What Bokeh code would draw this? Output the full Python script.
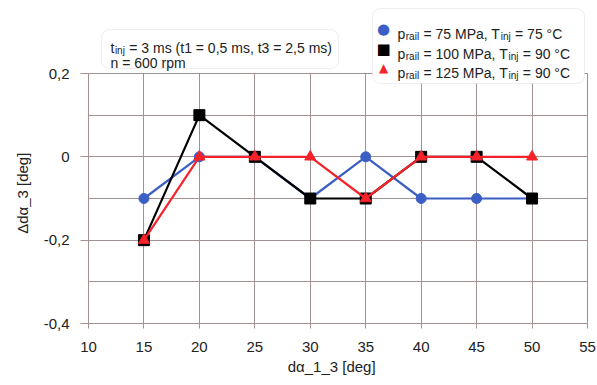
from bokeh.plotting import figure
from bokeh.models import (Range1d, FixedTicker, Label, BoxAnnotation, CustomJSTickFormatter)
from bokeh.embed import file_html
from bokeh.resources import INLINE

# ---------------- data ----------------
x_deg = [15, 20, 25, 30, 35, 40, 45, 50]
s75 = [-0.1, 0.0, 0.0, -0.1, 0.0, -0.1, -0.1, -0.1]
s100 = [-0.2, 0.1, 0.0, -0.1, -0.1, 0.0, 0.0, -0.1]
s125 = [-0.2, 0.0, 0.0, 0.0, -0.1, 0.0, 0.0, 0.0]
x_ticks = [10, 15, 20, 25, 30, 35, 40, 45, 50, 55]
y_ticks = [-0.4, -0.2, 0, 0.2]
y_grid = [-0.4, -0.3, -0.2, -0.1, 0, 0.1, 0.2]
x_lim = (10, 55)
y_lim = (-0.4, 0.2)
legend_rows = [
    ("p", "rail", " = 75 MPa, T", "inj", " = 75 °C"),
    ("p", "rail", " = 100 MPa, T", "inj", " = 90 °C"),
    ("p", "rail", " = 125 MPa, T", "inj", " = 90 °C"),
]
info_line1 = ("t", "inj", " = 3 ms (t1 = 0,5 ms, t3 = 2,5 ms)")
info_line2 = "n = 600 rpm"
x_title = "dα_1_3 [deg]"
y_title = "Δdα_3 [deg]"

FONT = "Liberation Sans"
GRID = "#a39191"
BLUE = "#3b5fc4"
RED = "#f5222a"
TXT = "#222222"

W, H = 597, 385
FL, FR, FT, FB = 88, 587, 73, 323  # plot-area edges in canvas px
PAD_R = 4  # frame extends a little past x=55 so its border line shows
NB = "\u00a0"

# frame extends to the top of the canvas so that annotations above the plot area are drawn
y_top = y_lim[1] + (y_lim[1] - y_lim[0]) * FT / (FB - FT)
x_right = x_lim[1] + (x_lim[1] - x_lim[0]) * PAD_R / (FR - FL)

p = figure(width=W, height=H, output_backend="svg", toolbar_location=None,
           x_range=Range1d(x_lim[0], x_right), y_range=Range1d(y_lim[0], y_top),
           min_border_left=FL, min_border_right=W - FR - PAD_R,
           min_border_top=0, min_border_bottom=H - FB)
p.background_fill_color = "white"
p.border_fill_color = "white"
p.outline_line_color = None

# grids
p.xgrid.ticker = FixedTicker(ticks=x_ticks)
p.ygrid.ticker = FixedTicker(ticks=y_grid)
p.xgrid.cross_bounds = y_lim
p.ygrid.cross_bounds = x_lim
for g in (p.xgrid, p.ygrid):
    g.grid_line_color = GRID
    g.grid_line_width = 1

# plot-area outline
p.add_layout(BoxAnnotation(left=x_lim[0], right=x_lim[1], bottom=y_lim[0], top=y_lim[1],
                           fill_alpha=0, line_color=GRID, line_width=1.2, level="underlay"))

# axes
for ax in (p.xaxis, p.yaxis):
    ax.axis_line_color = GRID
    ax.major_tick_line_color = GRID
    ax.minor_tick_line_color = None
    ax.major_tick_in = 0
    ax.major_label_text_font = FONT
    ax.major_label_text_font_size = "15px"
    ax.major_label_text_color = TXT
    ax.axis_label_text_font = FONT
    ax.axis_label_text_font_size = "15px"
    ax.axis_label_text_font_style = "normal"
    ax.axis_label_text_color = TXT
p.xaxis.bounds = x_lim
p.yaxis.bounds = y_lim
p.xaxis.ticker = FixedTicker(ticks=x_ticks)
p.yaxis.ticker = FixedTicker(ticks=y_ticks)
p.xaxis.major_tick_out = 5
p.yaxis.major_tick_out = 8
p.xaxis.major_label_standoff = 13
p.yaxis.major_label_standoff = 11
# trailing no-break spaces nudge the centred titles to where the reference has them
p.xaxis.axis_label = x_title + NB * 4
p.yaxis.axis_label = y_title + NB * 15
p.xaxis.axis_label_standoff = 3
p.yaxis.axis_label_standoff = 10
p.yaxis.formatter = CustomJSTickFormatter(
    code="return tick == 0 ? '0' : tick.toFixed(1).replace('.', ',');")

# series
p.line(x_deg, s75, line_color=BLUE, line_width=2.2)
p.scatter(x_deg, s75, marker="circle", size=10, fill_color=BLUE, line_color=BLUE)
p.line(x_deg, s100, line_color="black", line_width=2.2)
p.scatter(x_deg, s100, marker="square", size=11, fill_color="black", line_color="black")
p.line(x_deg, s125, line_color=RED, line_width=2.2)
p.scatter(x_deg, s125, marker="triangle", size=11, fill_color=RED, line_color=RED)

# --- helpers for annotations placed in canvas pixel coordinates ---
AW = {' ': .278, '=': .584, '.': .278, ',': .278, '(': .333, ')': .333, '°': .4,
      '0': .556, '1': .556, '2': .556, '3': .556, '4': .556, '5': .556, '6': .556,
      '7': .556, '8': .556, '9': .556, 'M': .833, 'P': .667, 'T': .611, 'C': .722,
      'a': .556, 'i': .222, 'j': .222, 'l': .222, 'm': .833, 'n': .556, 'p': .556,
      'r': .333, 's': .5, 't': .278}


def tw(s, size):
    return sum(AW.get(c, .556) for c in s) * size


def label(text, cx, cy, size, color=TXT):
    lead = len(text) - len(text.lstrip(" "))
    cx += tw(" " * lead, size)
    p.add_layout(Label(x=cx - FL, y=FB - cy, x_units="screen", y_units="screen",
                       text=text.strip(" "), text_font=FONT, text_font_size=f"{size}px",
                       text_color=color, text_baseline="alphabetic", text_align="left"))


def rich(parts, cx, cy, size, sub_size):
    x = cx
    for i, part in enumerate(parts):
        if i % 2 == 1:
            label(part, x + 0.5, cy + 3, sub_size)
            x += tw(part, sub_size) + 1
        else:
            label(part, x, cy, size)
            x += tw(part, size)


def box(l, r, t, b):
    p.add_layout(BoxAnnotation(left=l - FL, right=r - FL, top=FB - t, bottom=FB - b,
                               left_units="screen", right_units="screen",
                               top_units="screen", bottom_units="screen",
                               fill_color="white", fill_alpha=1, line_color="#c8c8c8",
                               line_width=1, border_radius=8, level="annotation"))


# info box
box(101, 338, 29, 68)
rich(info_line1, 110, 47, 14, 10)
label(info_line2, 110, 62, 14)

# legend box
box(372, 584, 8, 83)
markers = [("●", BLUE, 15), ("■", "black", 15), ("▲", RED, 12)]
row_y = [33, 53, 72]
for (sym, col, sz), parts, ry in zip(markers, legend_rows, row_y):
    p.add_layout(Label(x=383 - FL, y=FB - (ry - 5), x_units="screen", y_units="screen",
                       text=sym, text_font="DejaVu Sans", text_font_size=f"{sz}px",
                       text_color=col, text_align="center", text_baseline="middle"))
    rich(parts, 397, ry, 14, 10)

open("out.html", "w").write(file_html(p, INLINE))
